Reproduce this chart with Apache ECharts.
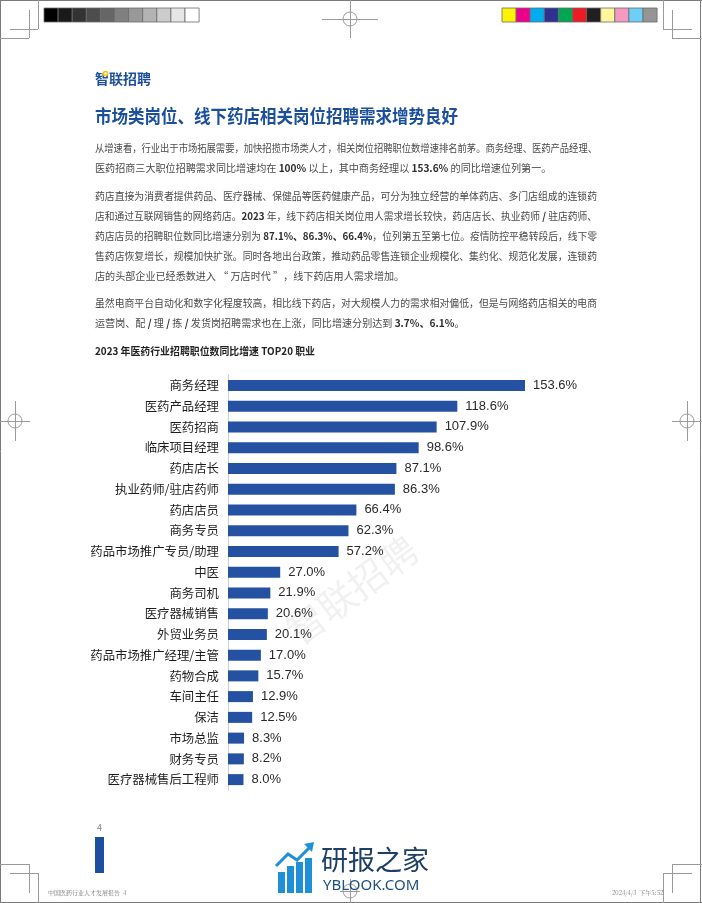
<!DOCTYPE html>
<html>
<head>
<meta charset="utf-8">
<script src="https://cdn.jsdelivr.net/npm/echarts@6/dist/echarts.min.js"></script>
<style>
html,body{margin:0;padding:0;background:#fff;}
#c{width:702px;height:903px;}
</style>
</head>
<body>
<div id="c"></div>
<script>
// ---- data ----
const categories = ['商务经理','医药产品经理','医药招商','临床项目经理','药店店长','执业药师/驻店药师','药店店员','商务专员','药品市场推广专员/助理','中医','商务司机','医疗器械销售','外贸业务员','药品市场推广经理/主管','药物合成','车间主任','保洁','市场总监','财务专员','医疗器械售后工程师'];
const growth = [153.6,118.6,107.9,98.6,87.1,86.3,66.4,62.3,57.2,27.0,21.9,20.6,20.1,17.0,15.7,12.9,12.5,8.3,8.2,8.0];
const chartTitle = '2023 年医药行业招聘职位数同比增速 TOP20 职业';
const heading = '市场类岗位、线下药店相关岗位招聘需求增势良好';
const paragraphs = [
  ['从增速看，行业出于市场拓展需要，加快招揽市场类人才，相关岗位招聘职位数增速排名前茅。商务经理、医药产品经理、',
   '医药招商三大职位招聘需求同比增速均在 {b|100%} 以上，其中商务经理以 {b|153.6%} 的同比增速位列第一。'],
  ['药店直接为消费者提供药品、医疗器械、保健品等医药健康产品，可分为独立经营的单体药店、多门店组成的连锁药',
   '店和通过互联网销售的网络药店。{b|2023} 年，线下药店相关岗位用人需求增长较快，药店店长、执业药师 {b|/} 驻店药师、',
   '药店店员的招聘职位数同比增速分别为 {b|87.1%、86.3%、66.4%}，位列第五至第七位。疫情防控平稳转段后，线下零',
   '售药店恢复增长，规模加快扩张。同时各地出台政策，推动药品零售连锁企业规模化、集约化、规范化发展，连锁药',
   '店的头部企业已经悉数进入 “ 万店时代 ”，线下药店用人需求增加。'],
  ['虽然电商平台自动化和数字化程度较高，相比线下药店，对大规模人力的需求相对偏低，但是与网络药店相关的电商',
   '运营岗、配 {b|/} 理 {b|/} 拣 {b|/} 发货岗招聘需求也在上涨，同比增速分别达到 {b|3.7%、6.1%}。']
];
const footerLeft = '中国医药行业人才发展报告  4';
const footerRight = '2024/4/3  下午5:52';
const pageNum = '4';
const grayStrip = ['#000000','#1a1a1a','#333333','#4d4d4d','#666666','#808080','#999999','#b3b3b3','#cccccc','#e6e6e6','#ffffff'];
const colorStrip = ['#fff200','#ec008c','#00aeef','#2e3192','#00a651','#ed1c24','#231f20','#fff799','#f49ac1','#6dcff6','#959595'];

// ---- helpers ----
const CJK = '"Noto Sans CJK SC","Noto Sans",sans-serif';
const meas = document.createElement('canvas').getContext('2d');
function textWidth(str, size, weight){
  meas.font = (weight||'normal') + ' ' + size + 'px ' + CJK;
  return meas.measureText(str).width;
}
function richWidth(line, size){
  let w = 0; const re = /\{b\|([^}]*)\}/g; let last = 0, m;
  while((m = re.exec(line))){ w += textWidth(line.slice(last, m.index), size); w += textWidth(m[1], size, 'bold'); last = re.lastIndex; }
  w += textWidth(line.slice(last), size);
  return w;
}
const graphics = [];
function line(x1,y1,x2,y2,color){
  graphics.push({type:'line',shape:{x1,y1,x2,y2},style:{stroke:color||'#8c8c8c',lineWidth:1},silent:true});
}
// page border
line(0.5,0,0.5,903,'#7a7a7a'); line(700.5,0,700.5,903,'#7a7a7a');
line(0,0.5,702,0.5,'#7a7a7a'); line(0,902.5,702,902.5,'#7a7a7a');
// crop marks
const cm = '#9a9a9a';
line(10,29.5,38,29.5,cm); line(38.5,0,38.5,29,cm); line(0,38.5,29,38.5,cm); line(29.5,10,29.5,38,cm);
line(663.5,0,663.5,29,cm); line(663,29.5,692,29.5,cm); line(672.5,10,672.5,38,cm); line(672,38.5,702,38.5,cm);
line(0,864.5,29,864.5,cm); line(29.5,864,29.5,893,cm); line(10,873.5,38,873.5,cm); line(38.5,873,38.5,903,cm);
line(672,864.5,702,864.5,cm); line(672.5,864,672.5,893,cm); line(663,873.5,692,873.5,cm); line(663.5,873,663.5,903,cm);
// registration marks
function reg(cx,cy,h,v){
  graphics.push({type:'circle',shape:{cx,cy,r:7},style:{fill:'none',stroke:cm,lineWidth:1},silent:true});
  line(cx-h,cy+0.5,cx+h,cy+0.5,cm); line(cx+0.5,cy-v,cx+0.5,cy+v,cm);
}
reg(350,19,28,19);
reg(15,421,15,20);
reg(687,421,15,20);
reg(350,891,10,12);
// strips
grayStrip.forEach((c,i)=>graphics.push({type:'rect',shape:{x:44+i*14.1,y:8,width:14.1,height:14},style:{fill:c,stroke:'#6a6a6a',lineWidth:0.8},silent:true}));
colorStrip.forEach((c,i)=>graphics.push({type:'rect',shape:{x:502+i*14.1,y:8,width:14.1,height:14},style:{fill:c,stroke:'#6a6a6a',lineWidth:0.8},silent:true}));
// logo
graphics.push({type:'text',x:95,y:79,style:{text:'智联招聘',font:'bold 14px '+CJK,fill:'#1d4f9f',textVerticalAlign:'middle'}});
graphics.push({type:'circle',shape:{cx:105.5,cy:73.5,r:2.1},style:{fill:'#fff',stroke:'#f5c400',lineWidth:1.5}});
// heading
(function(){
  const w = textWidth(heading,18,'bold');
  graphics.push({type:'text',x:95,y:116,scaleX:Math.min(1,363/w),style:{text:heading,font:'bold 18px '+CJK,fill:'#1b4f9c',textVerticalAlign:'middle'}});
})();
// paragraphs
const paraTop = [148, 196, 303];
const lineH = 20;
paragraphs.forEach((p,pi)=>{
  p.forEach((ln,li)=>{
    const full = li < p.length-1;
    const w = richWidth(ln, 10.4);
    const sx = 502/w;
    graphics.push({type:'text',x:95,y:paraTop[pi]+li*lineH,scaleX: full? sx : Math.min(sx, 0.97),
      style:{text:ln,fontSize:10.4,fontFamily:CJK,fill:'#4a4a4a',textVerticalAlign:'middle',
        rich:{b:{fontSize:10.4,fontFamily:CJK,fontWeight:'bold',fill:'#2e2e2e'}}}});
  });
});
// chart title
(function(){
  const w = textWidth(chartTitle,10.5,'bold');
  graphics.push({type:'text',x:95,y:351,scaleX:Math.min(1,220/w),style:{text:chartTitle,font:'bold 10.5px '+CJK,fill:'#222',textVerticalAlign:'middle'}});
})();
// watermark
graphics.push({type:'text',x:352,y:590,rotation:0.64,style:{text:'智联招聘',font:'38px '+CJK,fill:'rgba(0,0,0,0.06)',textAlign:'center',textVerticalAlign:'middle'},silent:true});
// footer
graphics.push({type:'text',x:99.5,y:828,style:{text:pageNum,font:'9px '+CJK,fill:'#888',textAlign:'center',textVerticalAlign:'middle'}});
graphics.push({type:'rect',shape:{x:95,y:837,width:9,height:36},style:{fill:'#1d4fa0'}});
graphics.push({type:'text',x:48,y:893,style:{text:footerLeft,font:'6px "Noto Serif CJK SC",serif',fill:'#777',textVerticalAlign:'middle'}});
graphics.push({type:'text',x:612,y:893,style:{text:footerRight,font:'6px "Noto Serif CJK SC",serif',fill:'#777',textVerticalAlign:'middle'}});
// site logo
[[278,872,7,21],[287,866,7,27],[296,862,7,31],[305,858,7,35]].forEach(r=>graphics.push({type:'rect',shape:{x:r[0],y:r[1],width:r[2],height:r[3]},style:{fill:'#1f8fd8'}}));
graphics.push({type:'polyline',shape:{points:[[276,866],[288,854],[297,860],[311,846]]},style:{stroke:'#1f8fd8',lineWidth:3,fill:'none'}});
graphics.push({type:'polygon',shape:{points:[[304,844],[314,842],[312,852]]},style:{fill:'#1f8fd8'}});
graphics.push({type:'text',x:321,y:860,style:{text:'研报之家',font:'27px '+CJK,fill:'#1e3f66',textVerticalAlign:'middle'}});
graphics.push({type:'text',x:323,y:886,style:{text:'YBLOOK.COM',font:'15px "Noto Sans",sans-serif',fill:'#1e4f80',textVerticalAlign:'middle'}});

const chart = echarts.init(document.getElementById('c'), null, {renderer:'canvas'});
chart.setOption({
  animation:false,
  backgroundColor:'#fff',
  grid:{left:228, top:375, width:297, height:415, containLabel:false},
  xAxis:{type:'value', min:0, max:'dataMax', show:false},
  yAxis:{type:'category', data:categories, inverse:true,
    axisLine:{show:true,lineStyle:{color:'#c5cfdf',width:1}},
    axisTick:{show:false},
    axisLabel:{margin:9,fontSize:12.4,color:'#1e1e1e',fontFamily:CJK}},
  series:[{type:'bar', data:growth, barWidth:11,
    itemStyle:{color:'#2451a2'},
    label:{show:true,position:'right',distance:8,fontSize:13,color:'#2a2a2a',fontFamily:'"Liberation Sans",Arial,sans-serif',
      formatter:p=>p.value.toFixed(1)+'%'}}],
  graphic:graphics
});
</script>
</body>
</html>
